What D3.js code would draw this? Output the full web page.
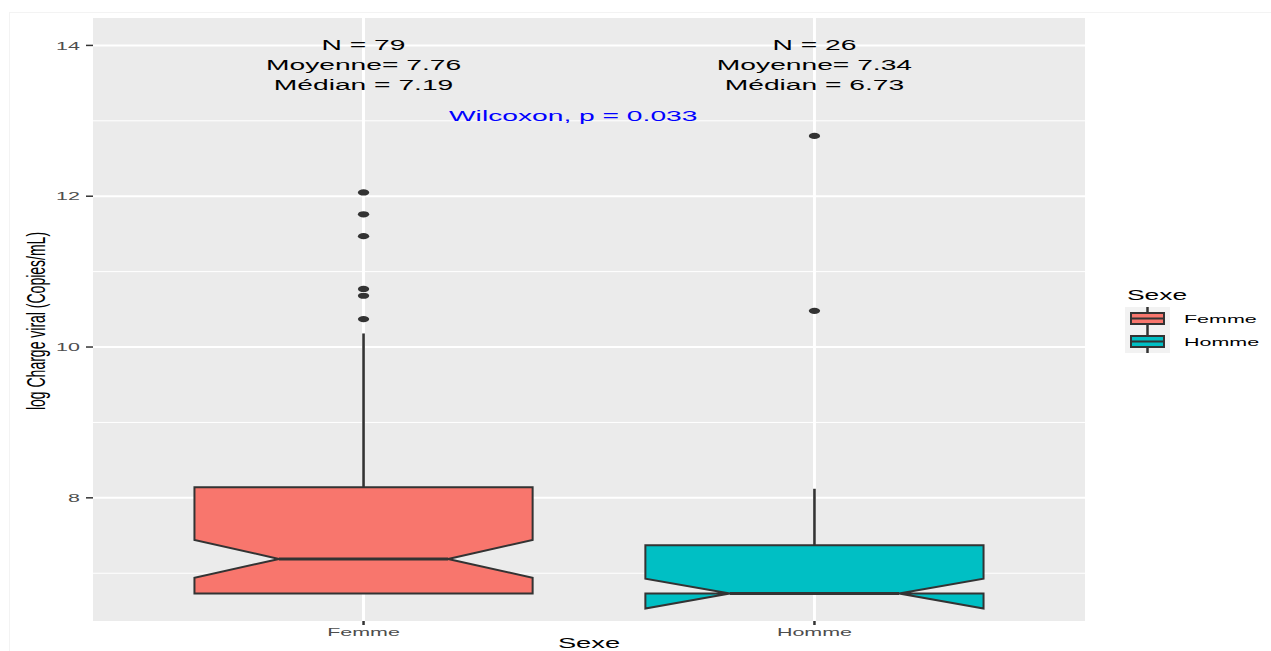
<!DOCTYPE html>
<html>
<head>
<meta charset="utf-8">
<script src="https://cdn.jsdelivr.net/npm/d3@7"></script>
<style>
  html, body { margin: 0; padding: 0; background: #ffffff; }
  svg { display: block; font-family: "Liberation Sans", Arial, Helvetica, sans-serif; }
</style>
</head>
<body>
<svg id="chart" width="1271" height="651"></svg>
<script>
// Log viral load by sex: notched box plots
const categories = ["Femme", "Homme"];
const counts = [79, 26];
const means = [7.76, 7.34];
const medians = [7.19, 6.73];
const q1 = [6.73, 6.73];
const q3 = [8.14, 7.37];
const whiskerLow = [6.73, 6.73];
const whiskerHigh = [10.18, 8.12];
const outliersFemme = [12.05, 11.76, 11.47, 10.77, 10.68, 10.37];
const outliersHomme = [12.80, 10.48];
const yTicks = [8, 10, 12, 14];
const yMinorTicks = [7, 9, 11, 13];
const fillColors = ["#F8766D", "#00BFC4"];
const pValue = 0.033;

const outliers = [outliersFemme, outliersHomme];

// glyphs are widened horizontally
const SX = 1.82;

const svg = d3.select("#chart");
const panel = { left: 93, right: 1085, top: 18, bottom: 621 };

// y-range: data span [min, 14] widened by 5% each side
const lo = d3.min(whiskerLow), hi = 14;
const span = hi - lo;
const y = d3.scaleLinear()
  .domain([lo - 0.05 * span, hi + 0.05 * span])
  .range([panel.bottom, panel.top]);

const x = d3.scalePoint()
  .domain(categories)
  .range([panel.left, panel.right])
  .padding(0.6);
const boxW = x.step() * 0.75;

function stretchedText(parent, px, py, str, opts = {}) {
  const g = parent.append("g").attr("transform", `translate(${px},${py}) scale(${SX},1)` + (opts.rotate ? ` rotate(${opts.rotate})` : ""));
  return g.append("text")
    .attr("text-anchor", opts.anchor || "middle")
    .attr("font-size", opts.size || 12)
    .attr("fill", opts.color || "#000000")
    .text(str);
}

// outer frame
svg.append("rect")
  .attr("x", 9.5).attr("y", 12.5).attr("width", 1275).attr("height", 660)
  .attr("fill", "none").attr("stroke", "#f3f3f3");

// panel background
svg.append("rect")
  .attr("x", panel.left).attr("y", panel.top)
  .attr("width", panel.right - panel.left).attr("height", panel.bottom - panel.top)
  .attr("fill", "#EBEBEB");

// grid
const grid = svg.append("g");
grid.selectAll(".minor").data(yMinorTicks).join("line")
  .attr("x1", panel.left).attr("x2", panel.right)
  .attr("y1", d => y(d)).attr("y2", d => y(d))
  .attr("stroke", "#ffffff").attr("stroke-width", 1);
grid.selectAll(".major").data(yTicks).join("line")
  .attr("x1", panel.left).attr("x2", panel.right)
  .attr("y1", d => y(d)).attr("y2", d => y(d))
  .attr("stroke", "#ffffff").attr("stroke-width", 2);
grid.selectAll(".vmajor").data(categories).join("line")
  .attr("x1", d => x(d)).attr("x2", d => x(d))
  .attr("y1", panel.top).attr("y2", panel.bottom)
  .attr("stroke", "#ffffff").attr("stroke-width", 3);

// boxes
const boxes = svg.append("g");
categories.forEach((c, i) => {
  const cx = x(c);
  const xmin = cx - boxW / 2, xmax = cx + boxW / 2;
  const nxmin = cx - boxW / 4, nxmax = cx + boxW / 4;
  const iqr = q3[i] - q1[i];
  const notch = 1.58 * iqr / Math.sqrt(counts[i]);
  const nu = medians[i] + notch, nl = medians[i] - notch;

  // whiskers
  boxes.append("line")
    .attr("x1", cx).attr("x2", cx)
    .attr("y1", y(q3[i])).attr("y2", y(whiskerHigh[i]))
    .attr("stroke", "#333333").attr("stroke-width", 2.6);
  boxes.append("line")
    .attr("x1", cx).attr("x2", cx)
    .attr("y1", y(q1[i])).attr("y2", y(whiskerLow[i]))
    .attr("stroke", "#333333").attr("stroke-width", 2.6);

  const pts = [
    [xmin, q3[i]], [xmin, nu], [nxmin, medians[i]], [xmin, nl], [xmin, q1[i]],
    [xmax, q1[i]], [xmax, nl], [nxmax, medians[i]], [xmax, nu], [xmax, q3[i]]
  ].map(p => [p[0], y(p[1])]);
  boxes.append("path")
    .attr("d", "M" + pts.map(p => p.join(",")).join("L") + "Z")
    .attr("fill", fillColors[i])
    .attr("stroke", "#333333").attr("stroke-width", 2).attr("stroke-linejoin", "miter");
  boxes.append("line")
    .attr("x1", nxmin).attr("x2", nxmax)
    .attr("y1", y(medians[i])).attr("y2", y(medians[i]))
    .attr("stroke", "#333333").attr("stroke-width", 3);

  boxes.selectAll(null).data(outliers[i]).join("ellipse")
    .attr("cx", cx).attr("cy", d => y(d))
    .attr("rx", 3.1 * SX).attr("ry", 3.1)
    .attr("fill", "#333333");
});

// summary annotations
const ann = svg.append("g");
categories.forEach((c, i) => {
  const cx = x(c);
  const base = y(14);
  stretchedText(ann, cx, base + 5, `N = ${counts[i]}`, { size: 15.5 });
  stretchedText(ann, cx, base + 25, `Moyenne= ${means[i].toFixed(2)}`, { size: 15.5 });
  stretchedText(ann, cx, base + 45, `Médian = ${medians[i].toFixed(2)}`, { size: 15.5 });
});
stretchedText(ann, 449, y(13), `Wilcoxon, p = ${pValue}`, { size: 15.5, anchor: "start", color: "#0000FF" });

// y axis
const yAxis = svg.append("g");
yAxis.selectAll("line").data(yTicks).join("line")
  .attr("x1", panel.left - 7).attr("x2", panel.left)
  .attr("y1", d => y(d)).attr("y2", d => y(d))
  .attr("stroke", "#333333").attr("stroke-width", 1.5);
yTicks.forEach(t => {
  stretchedText(yAxis, panel.left - 13, y(t) + 4.2, String(t), { size: 11.8, anchor: "end", color: "#4D4D4D" });
});

// x axis
const xAxis = svg.append("g");
xAxis.selectAll("line").data(categories).join("line")
  .attr("x1", d => x(d)).attr("x2", d => x(d))
  .attr("y1", panel.bottom).attr("y2", panel.bottom + 4)
  .attr("stroke", "#333333").attr("stroke-width", 2.5);
categories.forEach(c => {
  stretchedText(xAxis, x(c), 636, c, { size: 11.8, color: "#4D4D4D" });
});

// axis titles
stretchedText(svg, (panel.left + panel.right) / 2, 648, "Sexe", { size: 15 });
stretchedText(svg, 45, 321, "log Charge viral (Copies/mL)", { size: 14, rotate: -90 });

// legend
const leg = svg.append("g");
stretchedText(leg, 1127, 300, "Sexe", { size: 14.5, anchor: "start" });
leg.append("rect")
  .attr("x", 1125).attr("y", 307).attr("width", 45).attr("height", 46)
  .attr("fill", "#F2F2F2");
categories.forEach((c, i) => {
  const top = 307 + i * 23;
  const kx = 1147.5;
  leg.append("line")
    .attr("x1", kx).attr("x2", kx).attr("y1", top).attr("y2", top + 23)
    .attr("stroke", "#333333").attr("stroke-width", 2.5);
  leg.append("rect")
    .attr("x", 1131).attr("y", top + 6).attr("width", 33).attr("height", 11)
    .attr("fill", fillColors[i]).attr("stroke", "#333333").attr("stroke-width", 2);
  leg.append("line")
    .attr("x1", 1131).attr("x2", 1164).attr("y1", top + 11.5).attr("y2", top + 11.5)
    .attr("stroke", "#333333").attr("stroke-width", 2);
  stretchedText(leg, 1184, top + 16, c, { size: 11.8, anchor: "start" });
});
</script>
</body>
</html>
